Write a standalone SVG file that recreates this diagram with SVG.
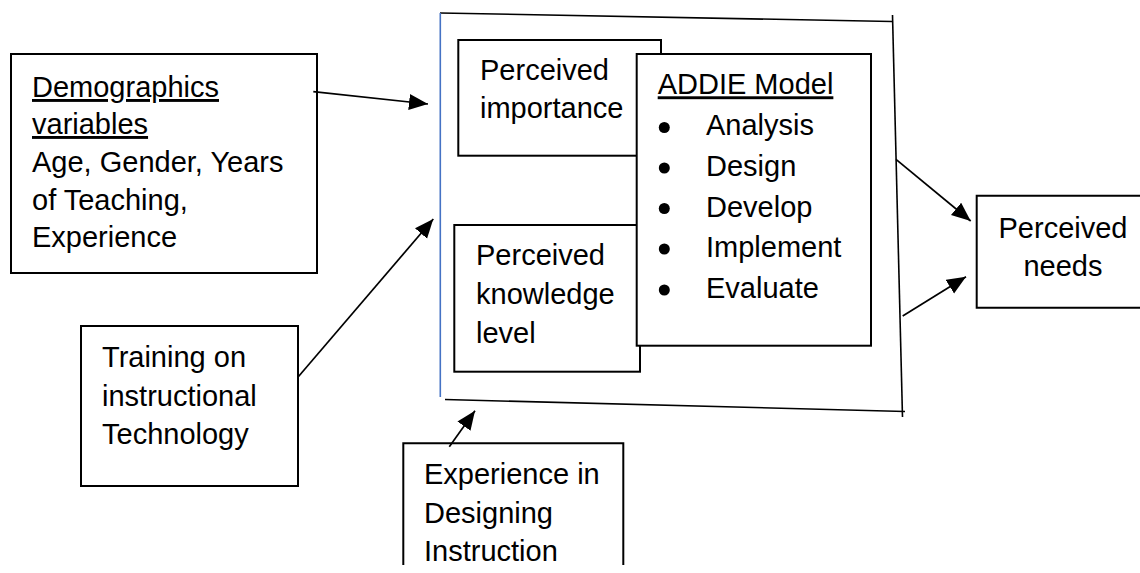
<svg xmlns="http://www.w3.org/2000/svg" width="1140" height="573" viewBox="0 0 1140 573">
<style>
.box{fill:#fff;stroke:#000;stroke-width:2}
.t{font-family:"Liberation Sans",Arial,sans-serif;font-size:29px;fill:#000}
.frame{fill:none;stroke:#000;stroke-width:1.6}
.conn{fill:none;stroke:#000;stroke-width:1.7;marker-end:url(#ah)}
</style>
<defs>
<marker id="ah" markerUnits="userSpaceOnUse" markerWidth="22" markerHeight="18" refX="19" refY="8" orient="auto">
<path d="M0,0 L19,8 L0,16 z" fill="#000"/>
</marker>
</defs>
<rect width="1140" height="573" fill="#fff"/>

<g id="frame">
<line class="frame" x1="440" y1="13" x2="892" y2="21.5"/>
<line class="frame" x1="892.5" y1="15" x2="902.5" y2="417"/>
<line class="frame" x1="445" y1="399.5" x2="905" y2="411.5"/>
<line x1="440.3" y1="13" x2="440.3" y2="397" stroke="#4472C4" stroke-width="1.6"/>
</g>

<g id="demographics">
<rect class="box" x="11" y="54" width="306" height="219"/>
<text class="t" x="32" y="97" text-decoration="underline">Demographics</text>
<text class="t" x="32" y="134" text-decoration="underline">variables</text>
<text class="t" x="32" y="172">Age, Gender, Years</text>
<text class="t" x="32" y="209.5">of Teaching,</text>
<text class="t" x="32" y="247">Experience</text>
</g>

<g id="training">
<rect class="box" x="81" y="326" width="217" height="160"/>
<text class="t" x="102" y="367">Training on</text>
<text class="t" x="102" y="406">instructional</text>
<text class="t" x="102" y="444">Technology</text>
</g>

<g id="experience">
<path class="box" d="M403.3,565 V443.3 H623.3 V565"/>
<text class="t" x="424" y="483.5">Experience in</text>
<text class="t" x="424" y="522.5">Designing</text>
<text class="t" x="424" y="561">Instruction</text>
</g>

<g id="importance">
<rect class="box" x="458.3" y="40" width="202.7" height="115.7"/>
<text class="t" x="480" y="80">Perceived</text>
<text class="t" x="480" y="118">importance</text>
</g>

<g id="knowledge">
<rect class="box" x="454.3" y="225" width="185.7" height="146.7"/>
<text class="t" x="476" y="265">Perceived</text>
<text class="t" x="476" y="304">knowledge</text>
<text class="t" x="476" y="342.5">level</text>
</g>

<g id="addie">
<rect class="box" x="636.7" y="54" width="234.3" height="291.7"/>
<text class="t" x="657.7" y="94.3" text-decoration="underline">ADDIE Model</text>
<circle cx="664.3" cy="127.5" r="5.5"/>
<circle cx="664.3" cy="168" r="5.5"/>
<circle cx="664.3" cy="208.5" r="5.5"/>
<circle cx="664.3" cy="249" r="5.5"/>
<circle cx="664.3" cy="290" r="5.5"/>
<text class="t" x="706" y="135">Analysis</text>
<text class="t" x="706" y="176">Design</text>
<text class="t" x="706" y="216.5">Develop</text>
<text class="t" x="706" y="257">Implement</text>
<text class="t" x="706" y="298">Evaluate</text>
</g>

<g id="needs">
<path class="box" d="M1142,195.7 H976.7 V307.7 H1142"/>
<text class="t" x="1063" y="237.5" text-anchor="middle">Perceived</text>
<text class="t" x="1063" y="276" text-anchor="middle">needs</text>
</g>

<g id="connectors">
<line class="conn" x1="313.3" y1="91.7" x2="428" y2="104"/>
<line class="conn" x1="298.3" y1="376.7" x2="433.3" y2="219"/>
<line class="conn" x1="449.3" y1="446.7" x2="475" y2="410.7"/>
<line class="conn" x1="896" y1="159.3" x2="970.7" y2="221"/>
<line class="conn" x1="902.7" y1="316" x2="966" y2="276.7"/>
</g>
</svg>
